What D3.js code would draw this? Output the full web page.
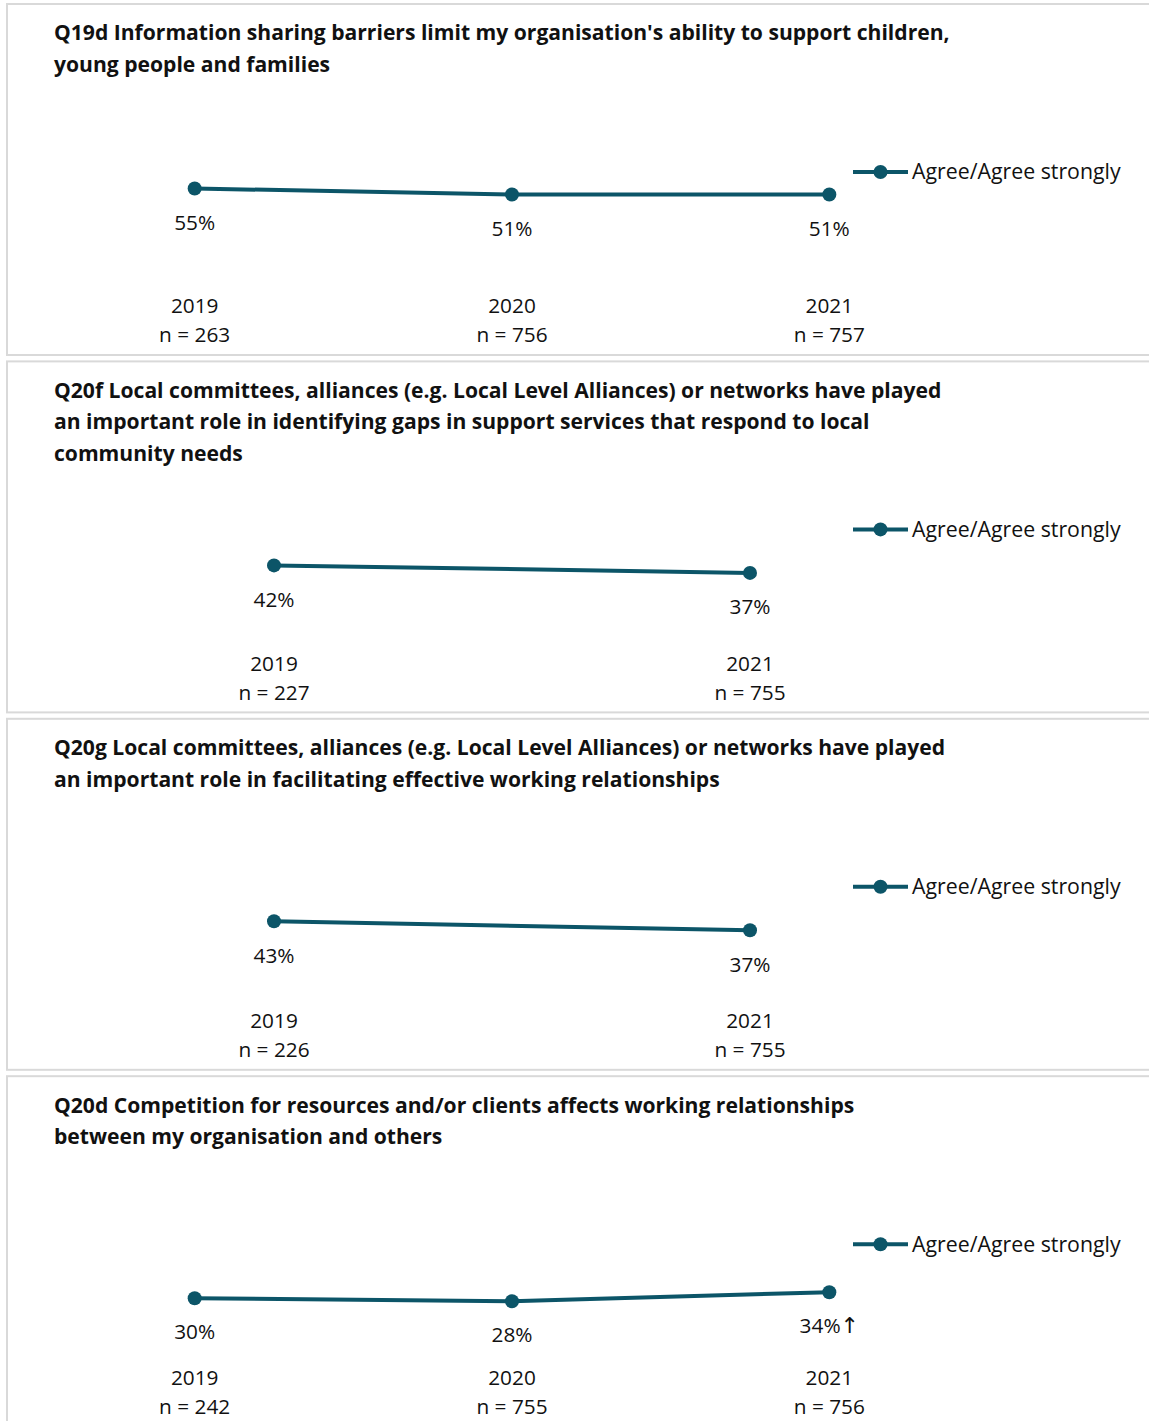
<!DOCTYPE html>
<html><head><meta charset="utf-8">
<script src="https://cdn.jsdelivr.net/npm/d3@7"></script>
<style>
body{margin:0;background:#fff;}
text{font-family:"Open Sans","Noto Sans",sans-serif;fill:#111;}
</style></head>
<body>
<svg id="chart" width="1149" height="1421"></svg>
<script>
const titleLines1 = ["Q19d Information sharing barriers limit my organisation's ability to support children,", "young people and families"];
const titleLines2 = ["Q20f Local committees, alliances (e.g. Local Level Alliances) or networks have played", "an important role in identifying gaps in support services that respond to local", "community needs"];
const titleLines3 = ["Q20g Local committees, alliances (e.g. Local Level Alliances) or networks have played", "an important role in facilitating effective working relationships"];
const titleLines4 = ["Q20d Competition for resources and/or clients affects working relationships", "between my organisation and others"];

const years1 = ["2019", "2020", "2021"];
const years2 = ["2019", "2021"];
const years3 = ["2019", "2021"];
const years4 = ["2019", "2020", "2021"];

const n1 = [263, 756, 757];
const n2 = [227, 755];
const n3 = [226, 755];
const n4 = [242, 755, 756];

const agree1 = [55, 51, 51];
const agree2 = [42, 37];
const agree3 = [43, 37];
const agree4 = [30, 28, 34];

const sig4 = ["", "", "↑"];

const seriesName = "Agree/Agree strongly";

const panels = [
  {title: titleLines1, years: years1, n: n1, vals: agree1, sig: ["", "", ""]},
  {title: titleLines2, years: years2, n: n2, vals: agree2, sig: ["", ""]},
  {title: titleLines3, years: years3, n: n3, vals: agree3, sig: ["", ""]},
  {title: titleLines4, years: years4, n: n4, vals: agree4, sig: sig4}
];

const color = "#0c5568";
const svg = d3.select("#chart");
const panelStep = 357.4;
const fs = "20.8px";

panels.forEach((p, i) => {
  const top = 4 + i * panelStep;
  const g = svg.append("g").attr("transform", `translate(0,${top})`);
  g.append("rect").attr("x", 7).attr("y", 0).attr("width", 1170).attr("height", 351)
    .attr("fill", "#fff").attr("stroke", "#d9d9d9").attr("stroke-width", 2);

  g.selectAll("text.title").data(p.title).enter().append("text")
    .attr("class", "title")
    .attr("x", 54).attr("y", (d, j) => 29 + j * 31.5).attr("dy", "0.35em")
    .style("font-weight", "700").style("font-size", "21.1px")
    .text(d => d);

  const x = d3.scaleBand().domain(p.years).range([36, 988]).padding(0);
  const y = d3.scaleLinear().domain([0, 100]).range([267, 117]);
  const cx = d => x(d) + x.bandwidth() / 2;

  const pts = p.years.map((yr, j) => ({yr, v: p.vals[j], n: p.n[j], s: p.sig[j]}));

  g.append("path").datum(pts)
    .attr("fill", "none").attr("stroke", color).attr("stroke-width", 4)
    .attr("d", d3.line().x(d => cx(d.yr)).y(d => y(d.v)));
  g.selectAll("circle.pt").data(pts).enter().append("circle")
    .attr("cx", d => cx(d.yr)).attr("cy", d => y(d.v)).attr("r", 7).attr("fill", color);

  const lbl = g.selectAll("text.val").data(pts).enter().append("text")
    .attr("x", d => cx(d.yr)).attr("y", d => y(d.v) + 34).attr("dy", "0.35em")
    .attr("text-anchor", "middle").style("font-size", fs);
  lbl.append("tspan").text(d => d.v + "%");
  lbl.filter(d => d.s).append("tspan").style("font-family", "DejaVu Sans").style("font-size", "22px").text(d => d.s);

  g.selectAll("text.yr").data(pts).enter().append("text")
    .attr("x", d => cx(d.yr)).attr("y", 302).attr("dy", "0.35em")
    .attr("text-anchor", "middle").style("font-size", fs).text(d => d.yr);
  g.selectAll("text.n").data(pts).enter().append("text")
    .attr("x", d => cx(d.yr)).attr("y", 331).attr("dy", "0.35em")
    .attr("text-anchor", "middle").style("font-size", fs).text(d => "n = " + d.n);

  const lg = g.append("g").attr("transform", "translate(853,168)");
  lg.append("line").attr("x1", 0).attr("x2", 55).attr("y1", 0).attr("y2", 0)
    .attr("stroke", color).attr("stroke-width", 4);
  lg.append("circle").attr("cx", 27.5).attr("cy", 0).attr("r", 7).attr("fill", color);
  lg.append("text").attr("x", 59).attr("y", 0).attr("dy", "0.35em")
    .style("font-size", "21.3px").text(seriesName);
});
</script>
</body></html>
